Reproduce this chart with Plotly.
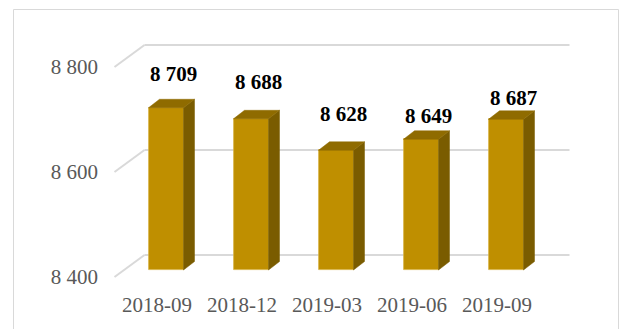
import plotly.graph_objects as go

# ---- data -------------------------------------------------------------
categories = ["2018-09", "2018-12", "2019-03", "2019-06", "2019-09"]
values = [8709, 8688, 8628, 8649, 8687]
y_ticks = [8400, 8600, 8800]
y_base = 8400

# ---- styling / projection constants -------------------------------------
W, H = 624, 329
L, R, T, B = 104, 600, 9, 286          # plot area edges (px)
PX_PER_CAT = 85.0                      # horizontal px per category step
X0_PX = 157.0                          # px of first category on the front plane
BASE_PX = 277.0                        # px of y_base on the front plane
PX_PER_UNIT = 0.525                    # vertical px per value unit

FRONT = "#BF8F00"
SIDE = "#7A5C00"
TOP = "#8F6B00"
GRID = "#D9D9D9"
TICK_COLOR = "#595959"
SERIF = "Liberation Serif, Times New Roman, serif"
FONT_SIZE = 21

label_lift = [34, 37, 36, 23, 21]      # px between bar top and its value label


def dx(px):
    return px / PX_PER_CAT


def dy(px):
    return px / PX_PER_UNIT


x_range = [(L - X0_PX) / PX_PER_CAT, (R - X0_PX) / PX_PER_CAT]
y_range = [y_base - (B - BASE_PX) / PX_PER_UNIT, y_base + (BASE_PX - T) / PX_PER_UNIT]

# depth offsets of the back wall and of the bar faces
WALL_DX, WALL_DY = dx(30), dy(22)
BAR_DX, BAR_DY = dx(11), dy(7)         # front face of each bar
DEPTH_DX, DEPTH_DY = dx(11), dy(8.5)   # bar depth
BAR_W = dx(35)
BAR_SHIFT = dx(-2)

xs = list(range(len(categories)))

fig = go.Figure()

# front faces of the bars
bar_x = [x + BAR_SHIFT + BAR_DX for x in xs]
fig.add_trace(go.Bar(
    x=bar_x,
    y=[v - y_base for v in values],
    base=y_base + BAR_DY,
    width=BAR_W,
    marker=dict(color=FRONT, line=dict(color="#D8B445", width=0.8)),
    hoverinfo="skip",
    showlegend=False,
))

# side and top faces of the bars
for bx, v in zip(bar_x, values):
    x_l, x_r = bx - BAR_W / 2, bx + BAR_W / 2
    y_b, y_t = y_base + BAR_DY, v + BAR_DY
    fig.add_trace(go.Scatter(
        x=[x_r, x_r + DEPTH_DX, x_r + DEPTH_DX, x_r, x_r],
        y=[y_b, y_b + DEPTH_DY, y_t + DEPTH_DY, y_t, y_b],
        fill="toself", fillcolor=SIDE, mode="lines",
        line=dict(color=SIDE, width=0.5),
        hoverinfo="skip", showlegend=False,
    ))
    fig.add_trace(go.Scatter(
        x=[x_l, x_r, x_r + DEPTH_DX, x_l + DEPTH_DX, x_l],
        y=[y_t, y_t, y_t + DEPTH_DY, y_t + DEPTH_DY, y_t],
        fill="toself", fillcolor=TOP, mode="lines",
        line=dict(color=TOP, width=0.5),
        hoverinfo="skip", showlegend=False,
    ))

# gridlines: back wall plus the receding side-wall diagonals
shapes = []
x_left, x_right = xs[0] - 0.5, xs[-1] + 0.5
for t in y_ticks:
    shapes.append(dict(type="line", xref="x", yref="y", layer="below",
                       x0=x_left + WALL_DX, x1=x_right + WALL_DX,
                       y0=t + WALL_DY, y1=t + WALL_DY,
                       line=dict(color=GRID, width=2)))
    shapes.append(dict(type="line", xref="x", yref="y", layer="below",
                       x0=x_left, x1=x_left + WALL_DX,
                       y0=t, y1=t + WALL_DY,
                       line=dict(color=GRID, width=2)))

# chart frame
def px_to_paper_x(px):
    return (px - L) / (R - L)


def px_to_paper_y(py):
    return (B - py) / (B - T)


shapes.append(dict(type="rect", xref="paper", yref="paper", layer="below",
                   x0=px_to_paper_x(13.5), x1=px_to_paper_x(618.5),
                   y0=px_to_paper_y(H + 5), y1=px_to_paper_y(9.5),
                   line=dict(color=GRID, width=1)))

# value labels
annotations = []
for bx, v, lift in zip(bar_x, values, label_lift):
    annotations.append(dict(
        x=bx + DEPTH_DX / 2 + dx(2), y=v + BAR_DY, xref="x", yref="y",
        text="<b>" + f"{v:,}".replace(",", " ") + "</b>", showarrow=False,
        yanchor="middle", xanchor="center", yshift=lift,
        font=dict(family=SERIF, size=FONT_SIZE, color="#000000"),
    ))

fig.update_layout(
    width=W, height=H,
    margin=dict(l=L, r=W - R, t=T, b=H - B, pad=0),
    paper_bgcolor="white", plot_bgcolor="rgba(0,0,0,0)",
    separators=". ",
    shapes=shapes, annotations=annotations,
    showlegend=False, bargap=0,
    xaxis=dict(range=x_range, tickvals=xs, ticktext=categories,
               showgrid=False, zeroline=False, showline=False, ticks="",
               tickfont=dict(family=SERIF, size=FONT_SIZE, color=TICK_COLOR),
               ticklabelstandoff=4, fixedrange=True),
    yaxis=dict(range=y_range, tickvals=y_ticks, tickformat=",d",
               showgrid=False, zeroline=False, showline=False, ticks="",
               tickfont=dict(family=SERIF, size=FONT_SIZE, color=TICK_COLOR),
               ticklabelstandoff=5, fixedrange=True),
)

fig.write_html("out.html")
